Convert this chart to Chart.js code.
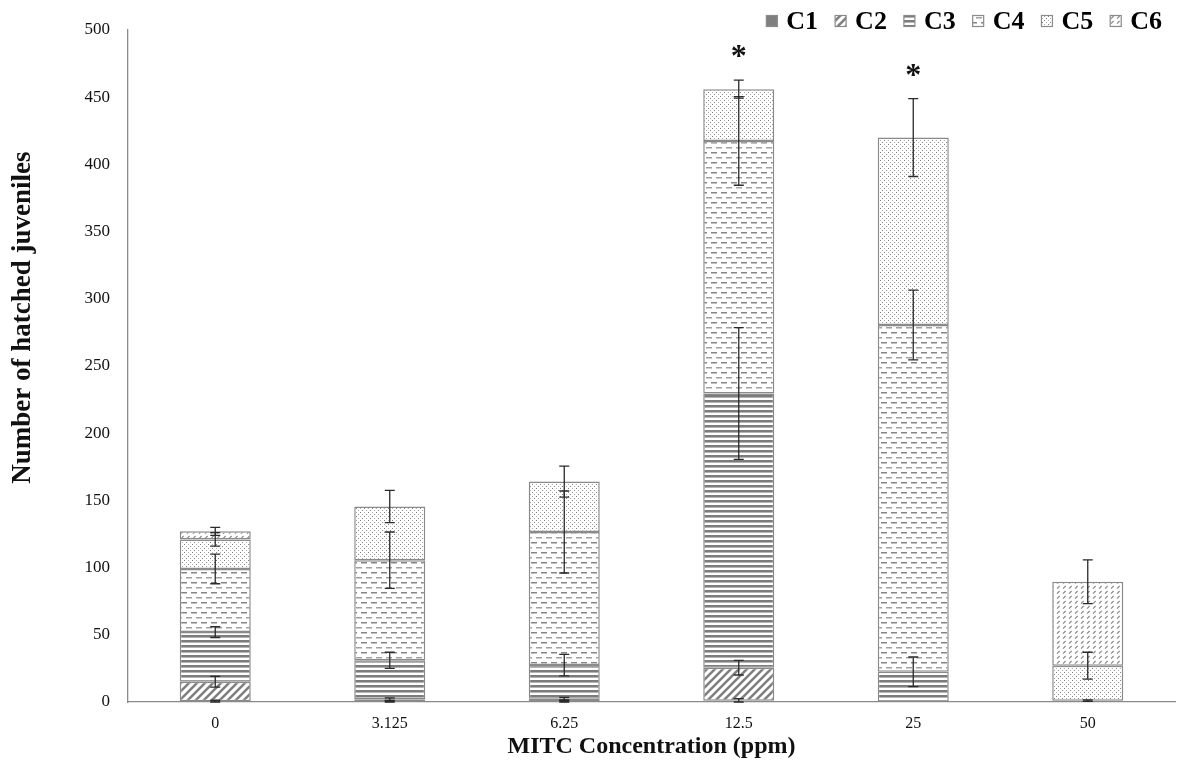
<!DOCTYPE html>
<html>
<head>
<meta charset="utf-8">
<script src="https://cdn.jsdelivr.net/npm/chart.js@4.4.1/dist/chart.umd.min.js"></script>
<style>
  html, body { margin: 0; padding: 0; background: #fff; }
  #wrap { width: 1181px; height: 771px; }
</style>
</head>
<body>
<div id="wrap"><canvas id="hatchChart" width="1181" height="771"></canvas></div>
<script>
// Categories (MITC concentration, ppm)
const concentrations = ['0', '3.125', '6.25', '12.5', '25', '50'];
const stageNames = ['C1', 'C2', 'C3', 'C4', 'C5', 'C6'];

// Mean hatched juveniles per stage
const c1 = [0.5, 0.5, 0.5, 1, 0, 1];
const c2 = [14.5, 1.5, 2, 24.5, 0, 0];
const c3 = [37, 29, 25, 204, 22.5, 0];
const c4 = [47, 74.5, 99, 188, 258, 0];
const c5 = [22, 40, 37.5, 38.5, 139.5, 26];
const c6 = [6, 0, 0, 0, 0, 62.5];

// Error (+/-) for each stage
const c1Err = [0.8, 0.6, 0.6, 1.5, 0, 0.6];
const c2Err = [4, 1, 1, 5.4, 0, 0];
const c3Err = [4, 6, 8, 49, 11, 0];
const c4Err = [11, 21, 30.5, 33, 26, 0];
const c5Err = [5, 12, 11.5, 6.7, 29, 10];
const c6Err = [3, 0, 0, 0, 0, 16.3];

const significance = ['', '', '', '*', '*', ''];

const yMax = 500;
const yStep = 50;
const yTitle = 'Number of hatched juveniles';

const stageValues = [c1, c2, c3, c4, c5, c6];
const stageErrors = [c1Err, c2Err, c3Err, c4Err, c5Err, c6Err];

const serif = '"Liberation Serif", "Times New Roman", serif';
const edgeGray = '#8a8a8a';

// --- fill patterns for each stage ---
function makeTile(w, h, draw) {
    const c = document.createElement('canvas');
    c.width = w; c.height = h;
    const g = c.getContext('2d');
    g.fillStyle = '#ffffff';
    g.fillRect(0, 0, w, h);
    draw(g);
    return document.getElementById('hatchChart').getContext('2d').createPattern(c, 'repeat');
}

const patterns = [
    '#7f7f7f',
    makeTile(8, 8, function(g) {
        g.strokeStyle = '#808080';
        g.lineWidth = 2.6;
        g.beginPath();
        g.moveTo(-2, 10); g.lineTo(10, -2);
        g.moveTo(-2, 2); g.lineTo(2, -2);
        g.moveTo(6, 10); g.lineTo(10, 6);
        g.stroke();
    }),
    makeTile(4, 5, function(g) {
        g.fillStyle = '#7c7c7c';
        g.fillRect(0, 0, 4, 2);
        g.fillStyle = '#b4b4b4';
        g.fillRect(0, 2, 4, 1);
    }),
    makeTile(20, 10, function(g) {
        g.fillStyle = '#858585';
        g.fillRect(1, 2, 6, 1.5);
        g.fillRect(11, 2, 6, 1.5);
        g.fillStyle = '#a0a0a0';
        g.fillRect(6, 7, 6, 1.5);
        g.fillRect(16, 7, 4, 1.5);
        g.fillRect(0, 7, 2, 1.5);
    }),
    makeTile(8, 8, function(g) {
        const dots = [[0, 0, '#808080'], [4, 0, '#b0b0b0'], [2, 2, '#b0b0b0'], [6, 2, '#808080'],
                      [0, 4, '#b0b0b0'], [4, 4, '#808080'], [2, 6, '#808080'], [6, 6, '#b0b0b0']];
        dots.forEach(function(d) { g.fillStyle = d[2]; g.fillRect(d[0], d[1], 1, 1); });
    }),
    makeTile(6, 5, function(g) {
        g.strokeStyle = '#858585';
        g.lineWidth = 1.1;
        g.beginPath();
        g.moveTo(1, 3.6); g.lineTo(3.6, 1);
        g.stroke();
    })
];

// --- error bars drawn through the y scale ---
const errorBarPlugin = {
    id: 'errorBars',
    afterDatasetsDraw(chart) {
        const ctx = chart.ctx;
        const y = chart.scales.y;
        ctx.save();
        ctx.strokeStyle = '#2a2a2a';
        ctx.lineWidth = 1.3;
        for (let d = 0; d < stageValues.length; d++) {
            const meta = chart.getDatasetMeta(d);
            for (let j = 0; j < concentrations.length; j++) {
                if (!stageValues[d][j] || !stageErrors[d][j]) continue;
                let top = 0;
                for (let k = 0; k <= d; k++) top += stageValues[k][j];
                const err = stageErrors[d][j];
                const x = meta.data[j].x;
                const y1 = y.getPixelForValue(top + err);
                const y2 = y.getPixelForValue(Math.max(0, top - err));
                ctx.beginPath();
                ctx.moveTo(x, y1); ctx.lineTo(x, y2);
                ctx.moveTo(x - 5, y1); ctx.lineTo(x + 5, y1);
                ctx.moveTo(x - 5, y2); ctx.lineTo(x + 5, y2);
                ctx.stroke();
            }
        }
        // significance marks above the highest error bar
        ctx.fillStyle = '#111';
        ctx.font = 'bold 32px ' + serif;
        ctx.textAlign = 'center';
        ctx.textBaseline = 'alphabetic';
        const meta0 = chart.getDatasetMeta(0);
        for (let j = 0; j < concentrations.length; j++) {
            if (!significance[j]) continue;
            let top = 0, hi = 0;
            for (let d = 0; d < stageValues.length; d++) {
                top += stageValues[d][j];
                if (stageValues[d][j]) hi = Math.max(hi, top + stageErrors[d][j]);
            }
            ctx.fillText(significance[j], meta0.data[j].x, y.getPixelForValue(hi) - 14);
        }
        ctx.restore();
    }
};

// --- legend at top right and y-axis title ---
const legendPlugin = {
    id: 'stageLegend',
    afterDraw(chart) {
        const ctx = chart.ctx;
        ctx.save();
        ctx.font = 'bold 26px ' + serif;
        ctx.textBaseline = 'middle';
        ctx.textAlign = 'left';
        const box = 11, gap = 9, spacing = 17;
        const widths = stageNames.map(function(n) { return box + gap + ctx.measureText(n).width; });
        const total = widths.reduce(function(a, b) { return a + b; }, 0) + spacing * (stageNames.length - 1);
        let x = 1162 - total;
        const yc = 21;
        stageNames.forEach(function(name, i) {
            ctx.fillStyle = patterns[i];
            ctx.fillRect(x, yc - box / 2, box, box);
            ctx.strokeStyle = edgeGray;
            ctx.lineWidth = 1.2;
            ctx.strokeRect(x, yc - box / 2, box, box);
            ctx.fillStyle = '#000';
            ctx.fillText(name, x + box + gap, yc + 1);
            x += widths[i] + spacing;
        });

        // y title, placed a little above the axis middle as in the figure
        const area = chart.chartArea;
        ctx.translate(23, area.top + (area.bottom - area.top) * 0.428);
        ctx.rotate(-Math.PI / 2);
        ctx.textAlign = 'center';
        ctx.font = 'bold 27px ' + serif;
        ctx.fillStyle = '#111';
        ctx.fillText(yTitle, 0, 0);
        ctx.restore();
    }
};

const datasets = stageNames.map(function(name, i) {
    return {
        label: name,
        data: stageValues[i],
        backgroundColor: patterns[i],
        borderColor: edgeGray,
        borderWidth: 1.5,
        borderSkipped: false,
        barPercentage: 0.407,
        categoryPercentage: 1.0
    };
});

new Chart(document.getElementById('hatchChart').getContext('2d'), {
    type: 'bar',
    data: { labels: concentrations, datasets: datasets },
    options: {
        responsive: false,
        animation: false,
        layout: { padding: { top: 30, right: 6, left: 0, bottom: 0 } },
        plugins: {
            legend: { display: false },
            tooltip: { enabled: false }
        },
        scales: {
            x: {
                stacked: true,
                grid: { display: false },
                border: { display: true, color: '#8a8a8a', width: 1.3 },
                ticks: { color: '#111', padding: 4, font: { family: serif, size: 16 } },
                title: {
                    display: true,
                    text: 'MITC Concentration (ppm)',
                    color: '#111',
                    font: { family: serif, size: 24, weight: 'bold' },
                    padding: { top: 0, bottom: 10 }
                },
                afterFit: function(scale) { scale.height = 69; }
            },
            y: {
                stacked: true,
                min: 0,
                max: yMax,
                grid: { display: false },
                border: { display: true, color: '#8a8a8a', width: 1.3 },
                ticks: { stepSize: yStep, color: '#111', padding: 10, font: { family: serif, size: 17 } },
                afterFit: function(scale) { scale.width = 128; }
            }
        }
    },
    plugins: [errorBarPlugin, legendPlugin]
});
</script>
</body>
</html>
